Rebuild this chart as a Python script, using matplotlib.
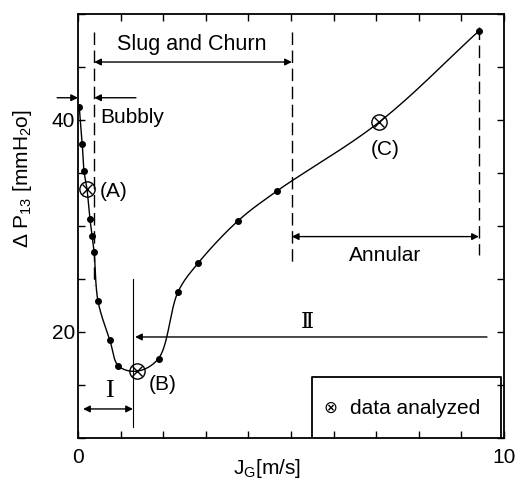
import numpy as np
import matplotlib
matplotlib.use("Agg")
import matplotlib.pyplot as plt

plt.rcParams['font.family'] = ['Liberation Sans', 'DejaVu Sans']
plt.rcParams['mathtext.fontset'] = 'custom'
plt.rcParams['mathtext.rm'] = 'Liberation Sans'
plt.rcParams['mathtext.it'] = 'Liberation Sans:italic'

# ---- data ----
jg_points = [0.03, 0.10, 0.14, 0.28, 0.33, 0.38, 0.47, 0.75, 0.95, 1.89, 2.35, 2.82, 3.76, 4.67, 9.41]
dp_points = [41.2, 37.7, 35.2, 30.7, 29.1, 27.5, 22.9, 19.2, 16.8, 17.5, 23.8, 26.5, 30.5, 33.3, 48.4]
jg_analyzed = [0.21, 1.38, 7.07]
dp_analyzed = [33.5, 16.3, 39.8]
analyzed_labels = ["(A)", "(B)", "(C)"]
boundaries = [0.38, 5.02, 9.41]
regime_I_II = 1.29

FS = 15

fig = plt.figure(figsize=(5.16, 4.8), dpi=100)
ax = fig.add_axes([78/516, 1-438/480, 426/516, 424/480])
ax.set_xlim(0, 10)
ax.set_ylim(10, 50)

# smooth curve through all points (centripetal Catmull-Rom in normalized coords)
allx = np.array(jg_points + jg_analyzed)
ally = np.array(dp_points + dp_analyzed)
order = np.argsort(allx)
allx, ally = allx[order], ally[order]
P = np.column_stack([allx / 10.0, (ally - 10) / 40.0])
P = np.vstack([2*P[0]-P[1], P, 2*P[-1]-P[-2]])

def cr_segment(p0, p1, p2, p3, n=40, alpha=0.5):
    def tj(ti, pi, pj):
        return ti + max(np.linalg.norm(pj - pi), 1e-9) ** alpha
    t0 = 0.0
    t1 = tj(t0, p0, p1)
    t2 = tj(t1, p1, p2)
    t3 = tj(t2, p2, p3)
    t = np.linspace(t1, t2, n)[:, None]
    A1 = (t1 - t)/(t1 - t0)*p0 + (t - t0)/(t1 - t0)*p1
    A2 = (t2 - t)/(t2 - t1)*p1 + (t - t1)/(t2 - t1)*p2
    A3 = (t3 - t)/(t3 - t2)*p2 + (t - t2)/(t3 - t2)*p3
    B1 = (t2 - t)/(t2 - t0)*A1 + (t - t0)/(t2 - t0)*A2
    B2 = (t3 - t)/(t3 - t1)*A2 + (t - t1)/(t3 - t1)*A3
    return (t2 - t)/(t2 - t1)*B1 + (t - t1)/(t2 - t1)*B2

segs = [cr_segment(P[i-1], P[i], P[i+1], P[i+2]) for i in range(1, len(P)-2)]
C = np.vstack(segs)
ax.plot(C[:, 0]*10, C[:, 1]*40 + 10, color='black', lw=1.0, zorder=3)

ax.plot(jg_points, dp_points, 'o', color='black', ms=4, zorder=4)
ax.plot(jg_analyzed, dp_analyzed, 'o', mfc='none', mec='black', mew=1.0, ms=11, zorder=5)
ax.plot(jg_analyzed, dp_analyzed, 'x', color='black', mew=1.0, ms=7, zorder=5)

# labels of analysed points
ax.text(0.52, 33.3, analyzed_labels[0], fontsize=FS, ha='left', va='center')
ax.text(1.65, 15.0, analyzed_labels[1], fontsize=FS, ha='left', va='center')
ax.text(7.2, 37.2, analyzed_labels[2], fontsize=FS, ha='center', va='center')

# regime boundaries (dashed)
dash = (0, (9, 4))
ax.plot([boundaries[0]]*2, [48.3, 24.4], color='black', lw=1.0, ls=dash)
ax.plot([boundaries[1]]*2, [48.3, 26.6], color='black', lw=1.0, ls=dash)
ax.plot([boundaries[2]]*2, [48.8, 27.3], color='black', lw=1.0, ls=dash)

def arrow(x0, y0, x1, y1, style):
    ax.annotate("", xy=(x1, y1), xytext=(x0, y0),
                arrowprops=dict(arrowstyle=style, color='black', lw=1.0,
                                mutation_scale=10, shrinkA=0, shrinkB=0),
                annotation_clip=False)

# Slug and Churn
arrow(boundaries[0], 45.47, boundaries[1], 45.47, '<|-|>')
ax.text(2.68, 47.1, "Slug and Churn", fontsize=FS+0.5, ha='center', va='center')
# Bubbly
arrow(-0.49, 42.1, 0.0, 42.1, '-|>')
arrow(1.36, 42.1, boundaries[0], 42.1, '-|>')
ax.text(0.52, 40.2, "Bubbly", fontsize=FS, ha='left', va='center')
# Annular
arrow(boundaries[1], 29.0, boundaries[2], 29.0, '<|-|>')
ax.text(7.2, 27.2, "Annular", fontsize=FS, ha='center', va='center')
# Regime II
arrow(9.6, 19.53, 1.34, 19.53, '-|>')
ax.text(5.38, 20.9, "\u2161", fontsize=16, ha='center', va='center',
        family=['DejaVu Serif', 'DejaVu Sans'])
# Regime I
ax.plot([regime_I_II]*2, [25.0, 11.0], color='black', lw=0.8)
arrow(0.12, 12.74, regime_I_II, 12.74, '<|-|>')
ax.text(0.73, 14.45, "I", fontsize=19, ha='center', va='center', family='Liberation Serif')

# legend box
ax.plot([5.49, 5.49, 9.93, 9.93], [10, 15.75, 15.75, 10], color='black', lw=1.3, zorder=6)
ax.text(5.92, 12.83, "\u2297", fontsize=12, ha='center', va='center', family='DejaVu Sans')
ax.text(6.38, 12.83, "data analyzed", fontsize=FS, ha='left', va='center')

# axes styling
for s in ax.spines.values():
    s.set_linewidth(1.3)
ax.set_xticks(range(0, 11))
ax.set_xticklabels(["0"] + [""]*9 + ["10"])
ax.set_yticks(range(10, 51, 5))
ax.set_yticklabels(["" if v not in (20, 40) else str(v) for v in range(10, 51, 5)])
ax.tick_params(direction='in', top=True, right=True, length=5, width=1.0, labelsize=FS)
ax.tick_params(axis='x', pad=7)
ax.tick_params(axis='y', pad=2)

ax.text(0.444, -0.073, r"J$_\mathrm{G}$[m/s]", transform=ax.transAxes, fontsize=FS,
        ha='center', va='center')
ax.text(-0.131, 0.613, r"$\Delta$ P$_\mathrm{13}$ [mmH$_\mathrm{2}$o]", transform=ax.transAxes,
        fontsize=FS, ha='center', va='center', rotation=90)

fig.savefig("out.png", dpi=100)
